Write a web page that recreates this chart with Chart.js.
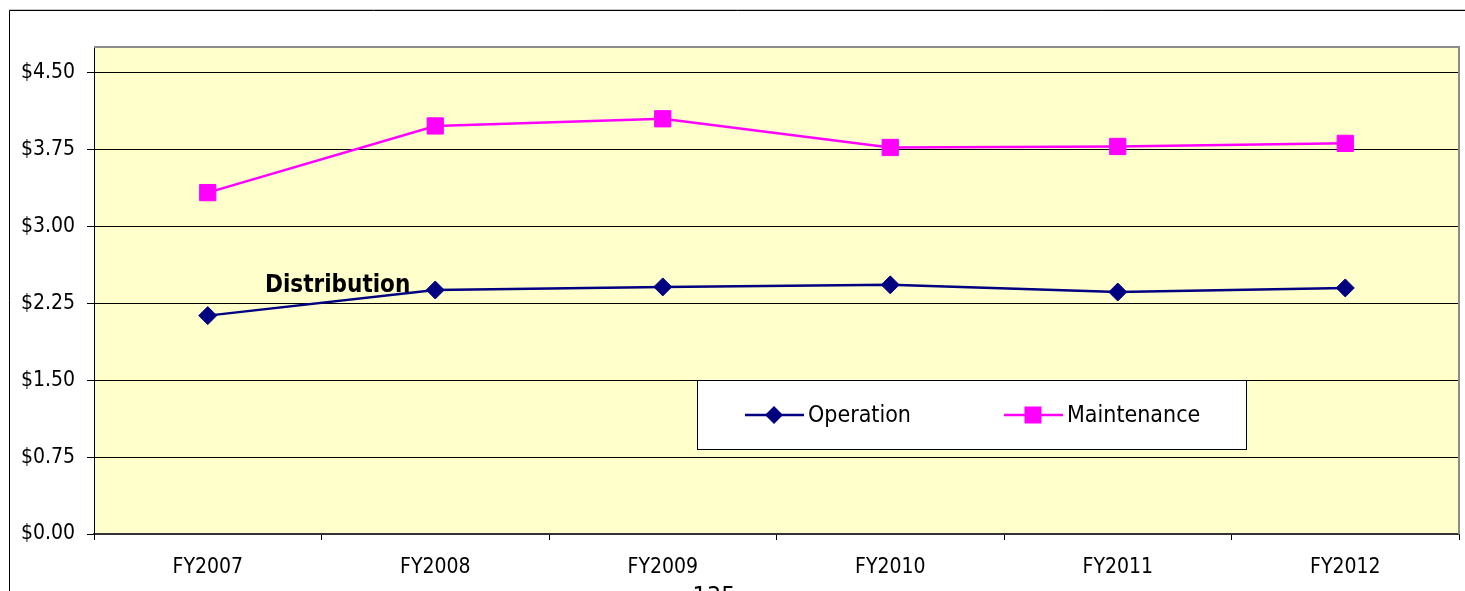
<!DOCTYPE html>
<html>
<head>
<meta charset="utf-8">
<script src="https://cdn.jsdelivr.net/npm/chart.js@4.4.1/dist/chart.umd.min.js"></script>
<style>
  html, body { margin: 0; padding: 0; background: #fff; }
  #wrap { position: relative; width: 1465px; height: 591px; overflow: hidden; }
</style>
</head>
<body>
<div id="wrap"><canvas id="costChart" width="1465" height="591"></canvas></div>
<script>
const years = ['FY2007', 'FY2008', 'FY2009', 'FY2010', 'FY2011', 'FY2012'];
const operation = [2.13, 2.38, 2.41, 2.43, 2.36, 2.40];
const maintenance = [3.33, 3.98, 4.05, 3.77, 3.78, 3.81];
const yTicks = [0, 0.75, 1.5, 2.25, 3.0, 3.75, 4.5];

const FONT = '"DejaVu Sans Condensed", "DejaVu Sans", sans-serif';

// frame, plot background, legend box and the loose text labels
const decor = {
	id: 'decor',
	beforeDraw(chart) {
		const ctx = chart.ctx, a = chart.chartArea;
		ctx.save();
		ctx.fillStyle = '#fff';
		ctx.fillRect(0, 0, chart.width, chart.height);
		ctx.strokeStyle = '#c8c8c8';
		ctx.lineWidth = 1;
		ctx.beginPath(); ctx.moveTo(9, 9.5); ctx.lineTo(chart.width, 9.5); ctx.stroke();
		ctx.strokeStyle = '#000';
		ctx.beginPath();
		ctx.moveTo(9.5, chart.height); ctx.lineTo(9.5, 10.5); ctx.lineTo(chart.width, 10.5);
		ctx.stroke();
		ctx.fillStyle = '#FFFFCC';
		ctx.fillRect(a.left, a.top, a.right - a.left, a.bottom - a.top);
		ctx.restore();
	},
	afterDatasetsDraw(chart) {
		const ctx = chart.ctx, a = chart.chartArea;
		ctx.save();
		ctx.strokeStyle = '#8c8c8c';
		ctx.lineWidth = 2;
		ctx.beginPath();
		ctx.moveTo(a.left, a.top); ctx.lineTo(a.right, a.top); ctx.lineTo(a.right, a.bottom);
		ctx.stroke();

		ctx.fillStyle = '#000';
		ctx.font = 'bold 24px ' + FONT;
		ctx.textBaseline = 'alphabetic';
		ctx.fillText('Distribution', 265, 292);

		// legend
		ctx.fillStyle = '#fff';
		ctx.fillRect(697.5, 380.5, 549, 69);
		ctx.strokeStyle = '#000';
		ctx.lineWidth = 1;
		ctx.strokeRect(697.5, 380.5, 549, 69);

		const items = [
			{ text: 'Operation', color: '#000080', shape: 'diamond', x0: 745 },
			{ text: 'Maintenance', color: '#FF00FF', shape: 'square', x0: 1004 }
		];
		const ly = 415;
		items.forEach(it => {
			ctx.strokeStyle = it.color;
			ctx.lineWidth = 2.5;
			ctx.beginPath(); ctx.moveTo(it.x0, ly); ctx.lineTo(it.x0 + 59, ly); ctx.stroke();
			const cx = it.x0 + 29;
			ctx.fillStyle = it.color;
			ctx.beginPath();
			if (it.shape === 'diamond') {
				ctx.moveTo(cx, ly - 9); ctx.lineTo(cx + 9, ly); ctx.lineTo(cx, ly + 9); ctx.lineTo(cx - 9, ly);
				ctx.closePath();
			} else {
				ctx.rect(cx - 8.5, ly - 8.5, 17, 17);
			}
			ctx.fill();
			ctx.fillStyle = '#000';
			ctx.font = '23px ' + FONT;
			ctx.textBaseline = 'middle';
			ctx.fillText(it.text, it.x0 + 63, ly + 1);
		});

		// page number cut off at the bottom
		ctx.font = '25px ' + FONT;
		ctx.textAlign = 'center';
		ctx.textBaseline = 'alphabetic';
		ctx.fillText('135', 714, 604);
		ctx.restore();
	}
};

new Chart(document.getElementById('costChart'), {
	type: 'line',
	data: {
		labels: years,
		datasets: [{
			label: 'Operation',
			data: operation,
			borderColor: '#000080',
			backgroundColor: '#000080',
			borderWidth: 2.5,
			pointStyle: 'rectRot',
			pointRadius: 9,
			pointBorderWidth: 1,
			tension: 0
		}, {
			label: 'Maintenance',
			data: maintenance,
			borderColor: '#FF00FF',
			backgroundColor: '#FF00FF',
			borderWidth: 2.5,
			pointStyle: 'rect',
			pointRadius: 11.5,
			pointBorderWidth: 1,
			tension: 0
		}]
	},
	options: {
		responsive: false,
		animation: false,
		layout: { autoPadding: false, padding: { left: 0, top: 47, right: 6, bottom: 0 } },
		plugins: {
			legend: { display: false },
			tooltip: { enabled: false }
		},
		scales: {
			x: {
				offset: true,
				afterFit: s => { s.height = 57; },
				grid: { drawOnChartArea: false, color: '#000', tickLength: 6, offset: true },
				border: { color: '#333', width: 2 },
				ticks: { color: '#000', padding: 15, font: { family: FONT, size: 21 } }
			},
			y: {
				min: 0,
				max: 4.75,
				afterFit: s => { s.width = 94; },
				afterBuildTicks: s => { s.ticks = yTicks.map(v => ({ value: v })); },
				grid: { color: '#000', lineWidth: 1, tickLength: 7 },
				border: { color: '#000', width: 1 },
				ticks: {
					color: '#000',
					padding: 12,
					font: { family: FONT, size: 21 },
					callback: v => '$' + Number(v).toFixed(2)
				}
			}
		}
	},
	plugins: [decor]
});
</script>
</body>
</html>
